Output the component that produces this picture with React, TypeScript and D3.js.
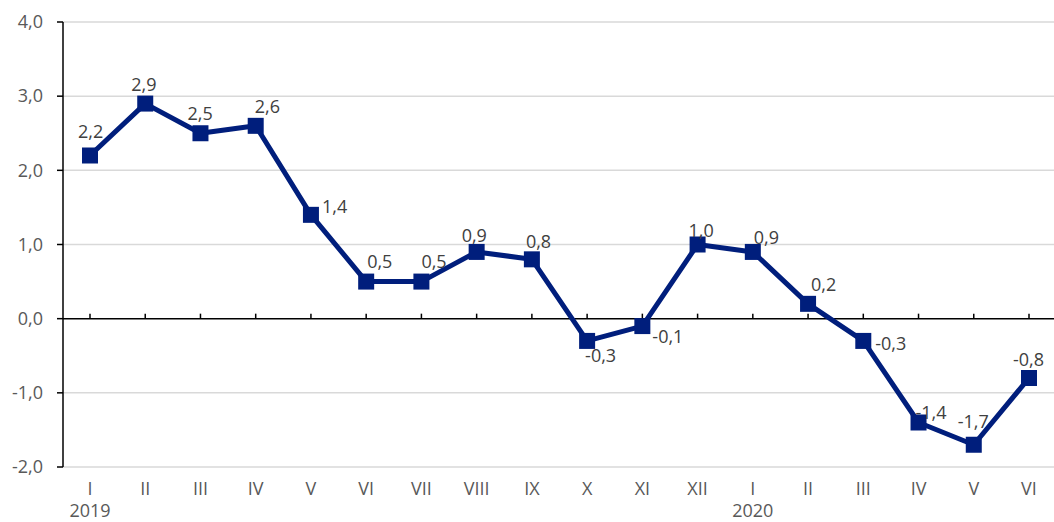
import React, { useRef, useEffect } from 'react'
import * as d3 from 'd3'

const months = ['I', 'II', 'III', 'IV', 'V', 'VI', 'VII', 'VIII', 'IX', 'X', 'XI', 'XII', 'I', 'II', 'III', 'IV', 'V', 'VI']
const years = [{ index: 0, label: '2019' }, { index: 12, label: '2020' }]
const values = [2.2, 2.9, 2.5, 2.6, 1.4, 0.5, 0.5, 0.9, 0.8, -0.3, -0.1, 1.0, 0.9, 0.2, -0.3, -1.4, -1.7, -0.8]
const yTicks = [-2, -1, 0, 1, 2, 3, 4]
// label nudges [dx to text start, dy to baseline] relative to each marker
const labelNudge: [number, number][] = [
  [-12, -18], [-14, -13], [-13, -13], [-1, -13], [11, -2], [1, -14], [0, -14], [-15, -10], [-6, -11],
  [-2, 21], [10, 17], [-9, -8], [1, -8], [3, -13], [12, 9], [-3, -4], [-16, -17], [-16, -12],
]

const width = 1054
const height = 522
const fmt = (v: number) => v.toFixed(1).replace('.', ',')

const App: React.FC = () => {
  const svgRef = useRef<SVGSVGElement | null>(null)

  useEffect(() => {
    if (!svgRef.current) return
    const svg = d3.select(svgRef.current)
    svg.selectAll('*').remove()

    const left = 63
    const right = 1054
    const idx = months.map((_, i) => i)

    const x = d3.scalePoint<number>().domain(idx).range([90, 1029])
    const y = d3.scaleLinear().domain([-2, 4]).range([467, 22])

    const font = "'Open Sans', sans-serif"
    const textColor = '#595959'
    const lineColor = '#001E7C'
    const fontSize = '18px'

    // gridlines
    svg.append('g')
      .selectAll('line')
      .data(yTicks.filter(t => t !== 0))
      .join('line')
      .attr('x1', left)
      .attr('x2', right)
      .attr('y1', d => y(d))
      .attr('y2', d => y(d))
      .attr('stroke', '#d9d9d9')
      .attr('stroke-width', 1.5)

    // y axis
    const yAxis = svg.append('g')
    yAxis.append('line')
      .attr('x1', left).attr('x2', left)
      .attr('y1', y(4)).attr('y2', y(-2))
      .attr('stroke', '#000').attr('stroke-width', 1.5)
    yAxis.selectAll('line.tick')
      .data(yTicks)
      .join('line')
      .attr('class', 'tick')
      .attr('x1', left - 6).attr('x2', left)
      .attr('y1', d => y(d)).attr('y2', d => y(d))
      .attr('stroke', '#000').attr('stroke-width', 1.5)
    yAxis.selectAll('text')
      .data(yTicks)
      .join('text')
      .attr('x', 43)
      .attr('y', d => y(d))
      .attr('dy', '0.35em')
      .attr('text-anchor', 'end')
      .attr('fill', textColor)
      .style('font-family', font)
      .style('font-size', fontSize)
      .text(d => fmt(d))

    // zero line with category ticks
    svg.append('line')
      .attr('x1', left).attr('x2', right)
      .attr('y1', y(0)).attr('y2', y(0))
      .attr('stroke', '#000').attr('stroke-width', 1.5)
    svg.append('g')
      .selectAll('line')
      .data(idx)
      .join('line')
      .attr('x1', d => x(d)!).attr('x2', d => x(d)!)
      .attr('y1', y(0) - 5).attr('y2', y(0))
      .attr('stroke', '#000').attr('stroke-width', 1.5)

    // month labels
    svg.append('g')
      .selectAll('text')
      .data(idx)
      .join('text')
      .attr('x', d => x(d)!)
      .attr('y', 495)
      .attr('text-anchor', 'middle')
      .attr('fill', textColor)
      .style('font-family', font)
      .style('font-size', fontSize)
      .text(d => months[d])

    svg.append('g')
      .selectAll('text')
      .data(years)
      .join('text')
      .attr('x', d => x(d.index)!)
      .attr('y', 517)
      .attr('text-anchor', 'middle')
      .attr('fill', textColor)
      .style('font-family', font)
      .style('font-size', fontSize)
      .text(d => d.label)

    // line
    const line = d3.line<number>()
      .x((_, i) => x(i)!)
      .y(d => y(d))
    svg.append('path')
      .datum(values)
      .attr('d', line)
      .attr('fill', 'none')
      .attr('stroke', lineColor)
      .attr('stroke-width', 5)
      .attr('stroke-linejoin', 'round')

    // markers
    const ms = 16
    svg.append('g')
      .selectAll('rect')
      .data(values)
      .join('rect')
      .attr('x', (_, i) => x(i)! - ms / 2)
      .attr('y', d => y(d) - ms / 2)
      .attr('width', ms)
      .attr('height', ms)
      .attr('fill', lineColor)

    // data labels
    svg.append('g')
      .selectAll('text')
      .data(values)
      .join('text')
      .attr('x', (_, i) => x(i)! + labelNudge[i][0])
      .attr('y', (d, i) => y(d) + labelNudge[i][1])
      .attr('text-anchor', 'start')
      .attr('fill', '#404040')
      .style('font-family', font)
      .style('font-size', fontSize)
      .text(d => fmt(d))
  }, [])

  return <svg ref={svgRef} width={width} height={height} style={{ display: 'block', position: 'absolute', left: 0, top: 0 }} />
}

export default App
